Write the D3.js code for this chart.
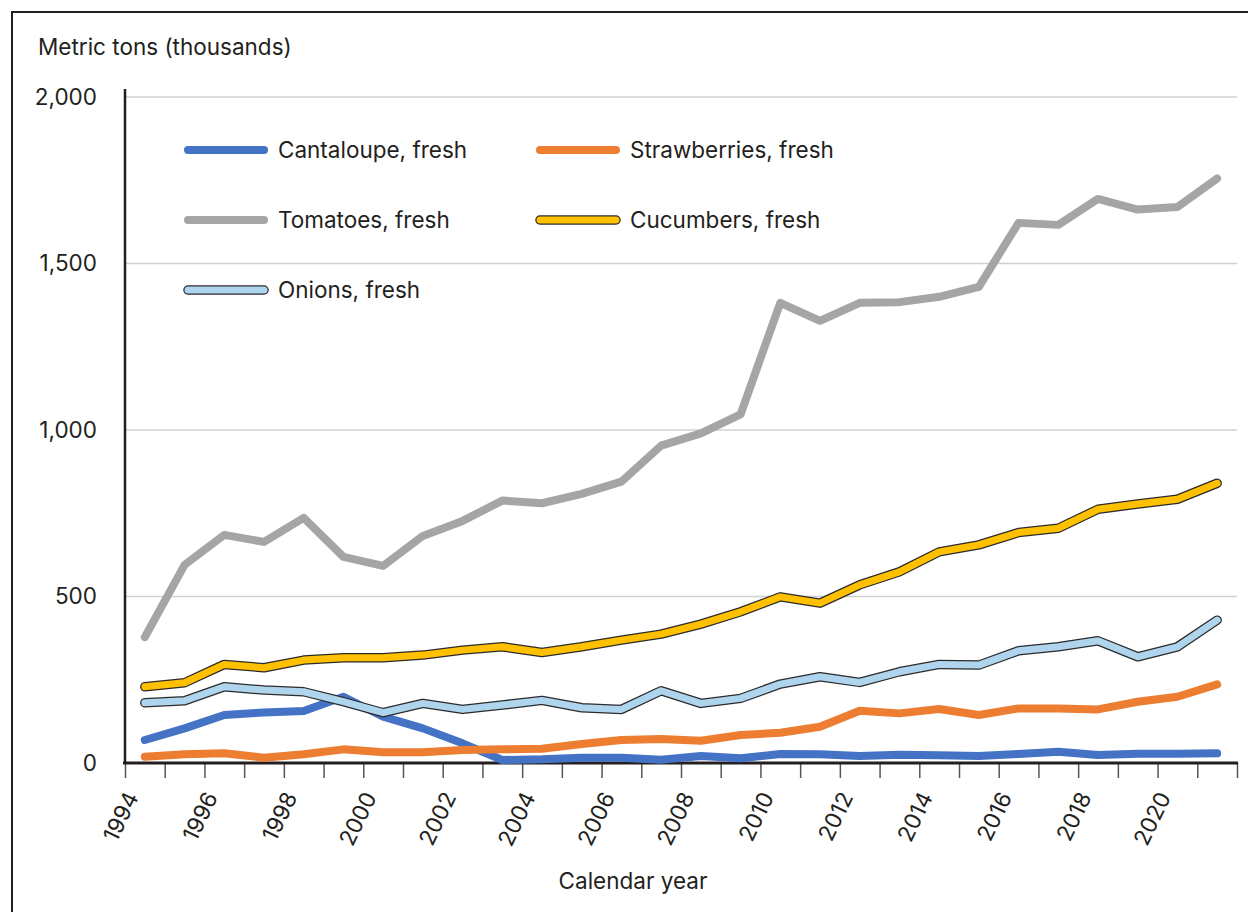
<!DOCTYPE html>
<html>
<head>
<meta charset="utf-8">
<script src="https://cdn.jsdelivr.net/npm/d3@7"></script>
<style>
  body { margin: 0; background: #fff; }
  svg text { font-family: Inter, Roboto, sans-serif; fill: #231f20; }
</style>
</head>
<body>
<div class="canvas"></div>
<script>

var years = d3.range(1994, 2022);

var cantaloupe = [69, 104, 144, 152, 156, 199, 139, 104, 59, 9, 11, 16, 16, 10, 21, 14, 27, 26, 21, 25, 23, 21, 27, 34, 24, 28, 28, 29];
var strawberries = [19, 26, 29, 16, 26, 41, 32, 32, 39, 41, 43, 57, 69, 72, 67, 84, 91, 109, 157, 149, 162, 144, 164, 164, 161, 184, 199, 236];
var tomatoes = [378, 595, 685, 664, 736, 619, 592, 682, 727, 788, 780, 808, 845, 953, 990, 1047, 1382, 1328, 1382, 1384, 1400, 1430, 1622, 1616, 1694, 1662, 1670, 1755];
var cucumbers = [229, 241, 296, 286, 309, 316, 316, 324, 339, 349, 332, 349, 369, 387, 417, 454, 499, 480, 535, 574, 634, 655, 692, 705, 762, 778, 792, 840];
var onions = [181, 187, 229, 219, 214, 184, 151, 179, 161, 174, 188, 166, 161, 217, 179, 194, 237, 259, 242, 274, 296, 294, 337, 349, 367, 319, 349, 429];

var yTicks = [0, 500, 1000, 1500, 2000];
var xLabels = d3.range(1994, 2021, 2);

var series = [
  { name: "Cantaloupe, fresh", values: cantaloupe, color: "#4472c4", outline: false },
  { name: "Strawberries, fresh", values: strawberries, color: "#ed7d31", outline: false },
  { name: "Tomatoes, fresh", values: tomatoes, color: "#a5a5a5", outline: false },
  { name: "Cucumbers, fresh", values: cucumbers, color: "#ffc000", outline: true },
  { name: "Onions, fresh", values: onions, color: "#aed4ee", outline: true }
];

var FONT = "22.5px";

var width = 1248, height = 912;
var plotLeft = 125, plotRight = 1237, plotTop = 97, plotBottom = 763;

var svg = d3.select(".canvas")
  .append("svg")
  .attr("width", width)
  .attr("height", height);

svg.append("rect")
  .attr("width", width).attr("height", height)
  .attr("fill", "#fff");

// outer frame, cut off on right and bottom
svg.append("rect")
  .attr("x", 12).attr("y", 12)
  .attr("width", 1400).attr("height", 1200)
  .attr("fill", "none")
  .attr("stroke", "#231f20")
  .attr("stroke-width", 2);

var x = d3.scaleLinear().domain([1994, 2022]).range([plotLeft, plotRight]);
var y = d3.scaleLinear().domain([0, 2000]).range([plotBottom, plotTop]);

// grid
svg.append("g")
  .selectAll("line")
  .data(yTicks.filter(function(d) { return d > 0; }))
  .join("line")
  .attr("x1", plotLeft).attr("x2", plotRight)
  .attr("y1", function(d) { return y(d); })
  .attr("y2", function(d) { return y(d); })
  .attr("stroke", "#d0d0d0")
  .attr("stroke-width", 1.5);

// y labels
var yAxis = svg.append("g")
  .attr("transform", "translate(" + plotLeft + ",0)")
  .call(d3.axisLeft(y).tickValues(yTicks).tickSize(0).tickPadding(28).tickFormat(d3.format(",")));
yAxis.select(".domain").remove();
yAxis.selectAll("text")
  .style("font-size", FONT)
  .attr("fill", "#231f20");

svg.append("line")
  .attr("x1", plotLeft).attr("x2", plotLeft)
  .attr("y1", 89).attr("y2", plotBottom)
  .attr("stroke", "#231f20")
  .attr("stroke-width", 2.5);

// x axis
var xAxis = svg.append("g")
  .attr("transform", "translate(0," + plotBottom + ")")
  .call(d3.axisBottom(x).tickValues(d3.range(1994, 2023)).tickSize(15).tickFormat(""));
xAxis.select(".domain").remove();
xAxis.selectAll(".tick line")
  .attr("stroke", "#555")
  .attr("stroke-width", 1.5);

svg.append("line")
  .attr("x1", plotLeft - 2).attr("x2", plotRight + 1)
  .attr("y1", plotBottom).attr("y2", plotBottom)
  .attr("stroke", "#231f20")
  .attr("stroke-width", 3);

svg.append("g")
  .selectAll("text")
  .data(xLabels)
  .join("text")
  .attr("transform", function(d) {
    return "translate(" + (x(d) + 14) + "," + 797 + ")rotate(-64)";
  })
  .attr("text-anchor", "end")
  .style("font-size", FONT)
  .text(function(d) { return d; });

svg.append("text")
  .attr("x", 38).attr("y", 55)
  .style("font-size", FONT)
  .text("Metric tons (thousands)");

svg.append("text")
  .attr("x", 633).attr("y", 889)
  .attr("text-anchor", "middle")
  .style("font-size", FONT)
  .text("Calendar year");

// lines
var line = d3.line()
  .x(function(d, i) { return x(years[i] + 0.5); })
  .y(function(d) { return y(d); });

var draw_series = function(g, s, path) {
  if (s.outline) {
    g.append("path").attr("d", path)
      .attr("fill", "none").attr("stroke", "#2b2b2b")
      .attr("stroke-width", 9.5)
      .attr("stroke-linecap", "round").attr("stroke-linejoin", "round");
    g.append("path").attr("d", path)
      .attr("fill", "none").attr("stroke", s.color)
      .attr("stroke-width", 7)
      .attr("stroke-linecap", "round").attr("stroke-linejoin", "round");
  } else {
    g.append("path").attr("d", path)
      .attr("fill", "none").attr("stroke", s.color)
      .attr("stroke-width", 8)
      .attr("stroke-linecap", "round").attr("stroke-linejoin", "round");
  }
};

var plot = svg.append("g");
series.forEach(function(s) {
  draw_series(plot.append("g"), s, line(s.values));
});

// legend
var legendPos = [[188, 150], [540, 150], [188, 220], [540, 220], [188, 290]];
var legend = svg.append("g");
series.forEach(function(s, i) {
  var p = legendPos[i];
  var g = legend.append("g");
  draw_series(g, s, "M" + p[0] + "," + p[1] + "H" + (p[0] + 76));
  g.append("text")
    .attr("x", p[0] + 90).attr("y", p[1])
    .attr("dy", "0.35em")
    .style("font-size", FONT)
    .text(s.name);
});

</script>
</body>
</html>
